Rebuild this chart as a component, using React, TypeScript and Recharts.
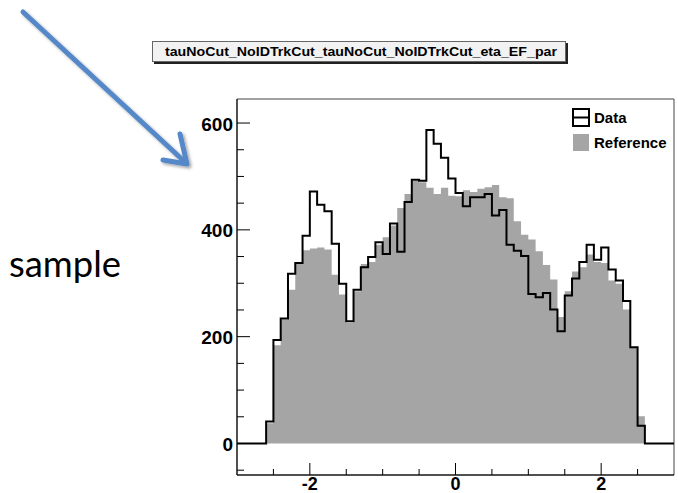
import { Area, ComposedChart, Legend, Line, ReferenceArea, XAxis, YAxis } from "recharts";

// eta bins, width 0.1, from -3 to 3 (last edge closes the step)
const binEdges = [
  -3.0, -2.9, -2.8, -2.7, -2.6, -2.5, -2.4, -2.3, -2.2, -2.1,
  -2.0, -1.9, -1.8, -1.7, -1.6, -1.5, -1.4, -1.3, -1.2, -1.1,
  -1.0, -0.9, -0.8, -0.7, -0.6, -0.5, -0.4, -0.3, -0.2, -0.1,
  0.0, 0.1, 0.2, 0.3, 0.4, 0.5, 0.6, 0.7, 0.8, 0.9,
  1.0, 1.1, 1.2, 1.3, 1.4, 1.5, 1.6, 1.7, 1.8, 1.9,
  2.0, 2.1, 2.2, 2.3, 2.4, 2.5, 2.6, 2.7, 2.8, 2.9, 3.0,
];

const dataCounts = [
  0, 0, 0, 0, 41, 194, 234, 318, 338, 389,
  472, 447, 435, 374, 299, 229, 288, 330, 349, 377,
  355, 412, 359, 452, 494, 492, 587, 561, 535, 496,
  469, 444, 461, 461, 467, 427, 437, 372, 361, 351,
  280, 274, 282, 251, 210, 277, 309, 340, 372, 344,
  367, 326, 305, 267, 180, 33, 0, 0, 0, 0,
];

const refCounts = [
  0, 0, 0, 0, 38, 184, 232, 288, 338, 362,
  365, 367, 363, 316, 279, 226, 285, 336, 340, 372,
  386, 408, 441, 467, 492, 489, 479, 467, 479, 464,
  463, 474, 471, 477, 480, 484, 461, 459, 416, 391,
  382, 360, 334, 307, 237, 285, 322, 330, 354, 340,
  338, 305, 299, 251, 180, 51, 0, 0, 0, 0,
];

const xTicks = [-2.5, -2, -1.5, -1, -0.5, 0, 0.5, 1, 1.5, 2, 2.5];
const xLabels = [-2, 0, 2];
const yTicks = [-50, 0, 50, 100, 150, 200, 250, 300, 350, 400, 450, 500, 550, 600];
const yLabels = [0, 200, 400, 600];

const title = "tauNoCut_NoIDTrkCut_tauNoCut_NoIDTrkCut_eta_EF_par";

const rows = binEdges.map((x, i) => {
  const k = Math.min(i, dataCounts.length - 1);
  return { x, data: dataCounts[k], ref: refCounts[k] };
});

const font = "'Liberation Sans', Arial, sans-serif";

function XTick({ x, y, payload }: any) {
  const major = xLabels.includes(payload.value);
  return (
    <g>
      <line x1={x} x2={x} y1={y} y2={y - (major ? 12 : 6)} stroke="#000" />
      {major && (
        <text x={x} y={y + 15} textAnchor="middle" fontFamily={font} fontWeight="bold" fontSize={18} fill="#000">
          {payload.value}
        </text>
      )}
    </g>
  );
}

function YTick({ x, y, payload }: any) {
  const major = yLabels.includes(payload.value);
  return (
    <g>
      <line x1={x} x2={x + (major ? 13 : 7)} y1={y} y2={y} stroke="#000" />
      {major && (
        <text x={x - 4} y={y + 7.5} textAnchor="end" fontFamily={font} fontWeight="bold" fontSize={19} fill="#000">
          {payload.value}
        </text>
      )}
    </g>
  );
}

function HistLegend() {
  const row = { display: "flex", alignItems: "center", height: 25, fontFamily: font, fontWeight: 700, fontSize: 15 } as const;
  return (
    <div>
      <div style={row}>
        <svg width={19} height={19} style={{ marginRight: 3 }}>
          <rect x={1} y={1} width={16} height={17} fill="none" stroke="#000" strokeWidth={2} />
          <line x1={1} x2={17} y1={9.5} y2={9.5} stroke="#000" strokeWidth={2} />
        </svg>
        Data
      </div>
      <div style={row}>
        <svg width={19} height={19} style={{ marginRight: 3 }}>
          <rect x={1} y={1} width={16} height={17} fill="#a5a5a5" />
        </svg>
        Reference
      </div>
    </div>
  );
}

export default function App() {
  return (
    <div style={{ position: "absolute", left: 0, top: 0, width: 678, height: 493, background: "#fff" }}>
      <ComposedChart width={678} height={493} data={rows} margin={{ top: 99, right: 4, bottom: 0, left: 0 }}>
        <XAxis
          dataKey="x"
          type="number"
          domain={[-3, 3]}
          ticks={xTicks}
          interval={0}
          allowDataOverflow
          height={18}
          tickSize={0}
          tickMargin={0}
          tickLine={false}
          axisLine={{ stroke: "#000" }}
          tick={<XTick />}
        />
        <YAxis
          type="number"
          domain={[-59, 645]}
          ticks={yTicks}
          interval={0}
          allowDataOverflow
          width={237}
          tickSize={0}
          tickMargin={0}
          tickLine={false}
          axisLine={{ stroke: "#000" }}
          tick={<YTick />}
        />
        <ReferenceArea x1={-3} x2={3} y1={-59} y2={645} fill="none" stroke="#444" strokeWidth={1} />
        <Area
          dataKey="ref"
          type="stepAfter"
          fill="#a5a5a5"
          fillOpacity={1}
          stroke="none"
          baseValue={0}
          isAnimationActive={false}
        />
        <Line
          dataKey="data"
          type="stepAfter"
          stroke="#000"
          strokeWidth={2}
          dot={false}
          activeDot={false}
          isAnimationActive={false}
        />
        <Legend
          layout="vertical"
          align="center"
          verticalAlign="middle"
          content={<HistLegend />}
          wrapperStyle={{ left: 572, top: 105, width: 100, height: 50 }}
        />
      </ComposedChart>
      <svg width={678} height={493} style={{ position: "absolute", left: 0, top: 0, pointerEvents: "none" }}>
        <defs>
          <filter id="sh" x="-20%" y="-20%" width="140%" height="140%">
            <feDropShadow dx="2" dy="2" stdDeviation="1.5" floodColor="#000" floodOpacity="0.35" />
          </filter>
        </defs>
        <g filter="url(#sh)" stroke="#5588c8" strokeWidth={5} strokeLinecap="round" fill="none">
          <line x1={23} y1={12} x2={186} y2={163} />
          <polyline points="180,134 187,164 163,160" strokeLinejoin="round" />
        </g>
        <rect x={154} y={43} width={414} height={21} fill="#222" />
        <rect x={152.5} y={41.5} width={413} height={20} fill="#f2f2f2" stroke="#666" />
        <text x={165} y={56} textLength={392} lengthAdjust="spacingAndGlyphs" fontFamily={font} fontSize={12} fontWeight="bold" fill="#000">
          {title}
        </text>
        <text x={9} y={277} textLength={112} lengthAdjust="spacingAndGlyphs" fontFamily="Lato, 'Open Sans', sans-serif" fontSize={37} fill="#000">
          sample
        </text>
      </svg>
    </div>
  );
}
